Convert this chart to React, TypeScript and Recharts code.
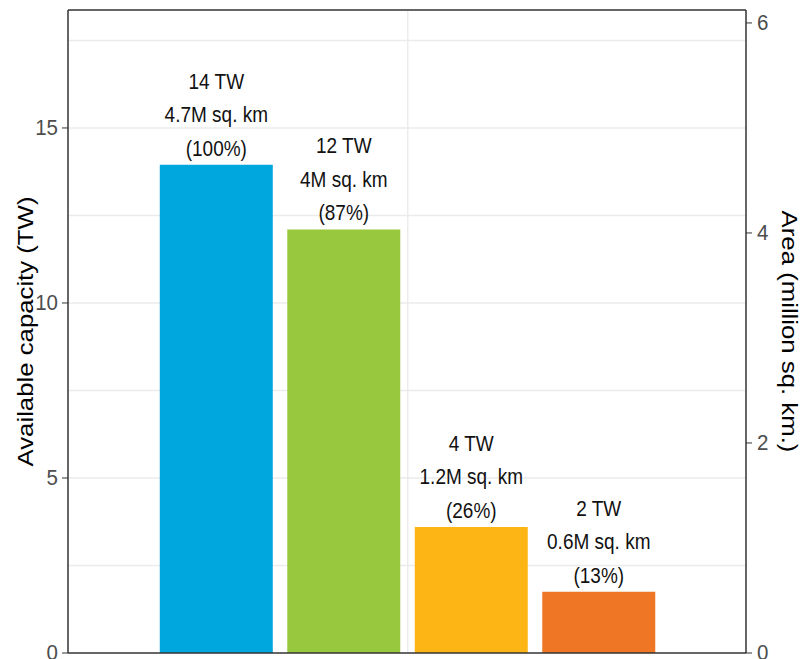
import {
  ComposedChart,
  Bar,
  Cell,
  XAxis,
  YAxis,
  CartesianGrid,
  ReferenceLine,
  LabelList,
} from 'recharts'

const categories = ['Total', 'Suitable', 'Viable', 'Selected']
const capacityTW = [13.95, 12.1, 3.6, 1.75]
const twLabels = ['14 TW', '12 TW', '4 TW', '2 TW']
const areaLabels = ['4.7M sq. km', '4M sq. km', '1.2M sq. km', '0.6M sq. km']
const shareLabels = ['(100%)', '(87%)', '(26%)', '(13%)']
const colors = ['#00A6DE', '#98C83E', '#FDB515', '#EE7625']

const capTicks = [0, 5, 10, 15]
const areaTicks = [0, 2, 4, 6]
const gridY = [2.5, 5, 7.5, 10, 12.5, 15, 17.5]
const capMax = 18.37
const areaMax = capMax / 3

const data = categories.map((c, i) => ({ name: c, pos: i + 1, capacity: capacityTW[i] }))

const font = '"Liberation Sans", Arial, sans-serif'
const dark = '#333333'
// the reference text is a bit taller than it is wide
const stretch = 1.15

function BarText(props: any) {
  const { x, y, width, index } = props
  const cx = x + width / 2
  const lines = [twLabels[index], areaLabels[index], shareLabels[index]]
  return (
    <g>
      {lines.map((t, k) => (
        <text
          key={k}
          transform={`translate(${cx},${y - 84 + k * 33.5}) scale(1,${stretch})`}
          textAnchor="middle"
          dominantBaseline="central"
          fontSize={19}
          fontFamily={font}
          fill="#111"
        >
          {t}
        </text>
      ))}
    </g>
  )
}

function Tick(props: any) {
  const { x, y, payload, textAnchor } = props
  return (
    <text
      transform={`translate(${x},${y}) scale(1,1.1)`}
      textAnchor={textAnchor}
      dominantBaseline="central"
      fontSize={20.5}
      fontFamily={font}
      fill="#4D4D4D"
    >
      {payload.value}
    </text>
  )
}

function AxisTitle(props: any, text: string, dx: number, angle: number) {
  const { x, y, height } = props.viewBox
  return (
    <text
      transform={`translate(${x + dx},${y + height / 2}) scale(1,1.12) rotate(${angle})`}
      textAnchor="middle"
      dominantBaseline="central"
      fontSize={23}
      fontFamily={font}
      fill="#000"
    >
      {text}
    </text>
  )
}

export default function App() {
  return (
    <div style={{ position: 'absolute', left: 0, top: 0, background: '#fff' }}>
      <ComposedChart
        width={802}
        height={659}
        data={data}
        margin={{ top: 10, right: 0, bottom: 6, left: 0 }}
      >
        <CartesianGrid
          stroke="#EBEBEB"
          strokeWidth={1.4}
          horizontalValues={gridY}
          verticalValues={[2.5]}
        />
        <XAxis type="number" dataKey="pos" domain={[-0.165, 5.153]} hide allowDataOverflow />
        <YAxis
          domain={[0, capMax]}
          ticks={capTicks}
          interval={0}
          allowDataOverflow
          width={68}
          tick={<Tick />}
          tickSize={6}
          tickMargin={4}
          tickLine={{ stroke: dark }}
          axisLine={{ stroke: dark, strokeWidth: 1.5 }}
          label={(p: any) => AxisTitle(p, 'Available capacity (TW)', 25, -90)}
        />
        <YAxis
          yAxisId="right"
          orientation="right"
          domain={[0, areaMax]}
          ticks={areaTicks}
          interval={0}
          allowDataOverflow
          width={56}
          tick={<Tick />}
          tickSize={6}
          tickMargin={5}
          tickLine={{ stroke: dark }}
          axisLine={{ stroke: dark, strokeWidth: 1.5 }}
          label={(p: any) => AxisTitle(p, 'Area (million sq. km.)', 44, 90)}
        />
        <Bar dataKey="capacity" barSize={113} isAnimationActive={false}>
          {data.map((d, i) => (
            <Cell key={d.name} fill={colors[i]} />
          ))}
          <LabelList dataKey="capacity" content={BarText} />
        </Bar>
        <ReferenceLine y={capMax} stroke={dark} strokeWidth={1.5} />
        <ReferenceLine y={0} stroke={dark} strokeWidth={1.5} />
      </ComposedChart>
    </div>
  )
}
